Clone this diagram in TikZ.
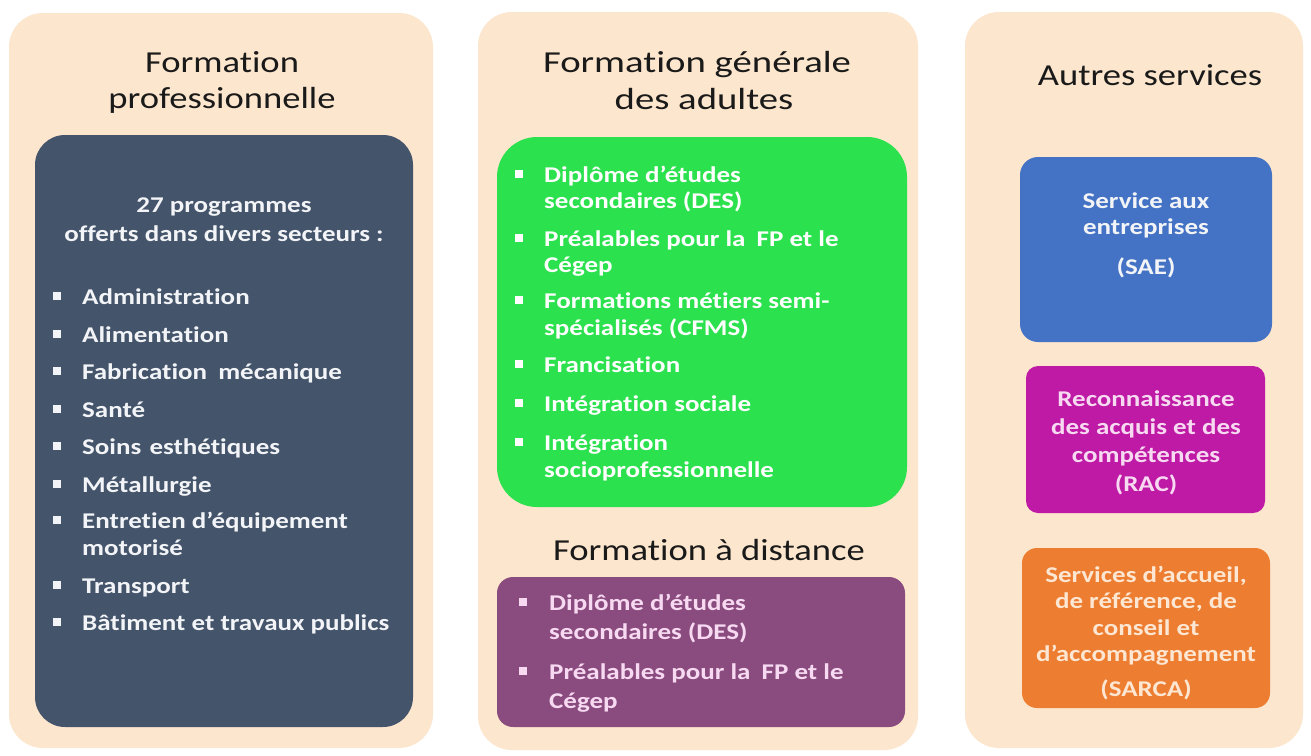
\documentclass[tikz,border=0pt]{standalone}
\usepackage{fontspec}
\setmainfont{Carlito}
\newfontfamily\ttlfont[FakeStretch=1.2,Ligatures=NoCommon]{Carlito}
\newfontfamily\ttlfontw[FakeStretch=1.27,Ligatures=NoCommon]{Carlito}
\newfontfamily\bodyfont[FakeStretch=1.2,Ligatures=NoCommon]{Carlito}
\definecolor{panelbg}{HTML}{FCE6CD}
\definecolor{darkbox}{HTML}{44546A}
\definecolor{greenbox}{HTML}{2CE14E}
\definecolor{purplebox}{HTML}{8A4B7F}
\definecolor{bluebox}{HTML}{4472C4}
\definecolor{magbox}{HTML}{BE1AA5}
\definecolor{orangebox}{HTML}{ED7D31}
\definecolor{titlec}{HTML}{1A1A1A}
\definecolor{pinktxt}{HTML}{F7DAF1}
\definecolor{peachtxt}{HTML}{FDE6D2}
\definecolor{paletxt}{HTML}{F2F4F7}
\newcommand\boxat[6]{\node[boxshape,#6,minimum width=#4pt,minimum height=#5pt,anchor=north west] (#1) at (#2,#3) {};}
\newcommand\wline[5]{\node[#2,anchor=base west] (#1) at (#3,#4) {#5};}
\newcommand\ctrline[5]{\node[#2,anchor=base] (#1) at (#3,#4) {#5};}
\newcommand\bul[4]{\node[bulletsq,fill=#4] (#1) at (#2,{#3-8}) {};}
\begin{document}
\begin{tikzpicture}[x=1pt,y=-1pt,
  boxshape/.style={rectangle,inner sep=0pt,outer sep=0pt},
  panel/.style={fill=panelbg,rounded corners=34pt},
  ttl/.style={font=\ttlfont\fontsize{30.5}{37}\selectfont,text=titlec,inner sep=0pt},
  ttlw/.style={font=\ttlfontw\fontsize{30.5}{37}\selectfont,text=titlec,inner sep=0pt},
  body/.style={font=\bodyfont\bfseries\fontsize{22.5}{27}\selectfont,inner sep=0pt},
  bulletsq/.style={rectangle,minimum size=7.5pt,inner sep=0pt,outer sep=0pt}]
\useasboundingbox (0,0) rectangle (1311,755);
\fill[white] (0,0) rectangle (1311,755);
% panels
\boxat{p1}{9}{13}{424}{735}{panel}
\boxat{p2}{478}{12}{440}{738}{panel}
\boxat{p3}{965}{12}{338}{736}{panel}
% inner boxes
\boxat{dark}{35}{135}{378}{592}{fill=darkbox,rounded corners=30pt}
\boxat{green}{497}{137}{410}{370}{fill=greenbox,rounded corners=40pt}
\boxat{purple}{497}{577}{408}{150}{fill=purplebox,rounded corners=16pt}
\boxat{blue}{1020}{157}{252}{185}{fill=bluebox,rounded corners=18pt}
\boxat{mag}{1026}{366}{239}{147}{fill=magbox,rounded corners=12pt}
\boxat{orange}{1022}{548}{248}{160}{fill=orangebox,rounded corners=15pt}
% titles
\ctrline{t1a}{ttl}{222}{72}{Formation}
\ctrline{t1b}{ttl}{222}{108}{professionnelle}
\ctrline{t2a}{ttlw}{697}{72}{Formation générale}
\ctrline{t2b}{ttlw}{704}{109}{des adultes}
\ctrline{t2c}{ttl}{709}{560}{Formation à distance}
\ctrline{t3a}{ttl}{1150}{85}{Autres services}
% left box
\ctrline{l0a}{body,text=paletxt}{224}{212}{27 programmes}
\ctrline{l0b}{body,text=paletxt}{224}{241}{offerts dans divers secteurs :}
\bul{lb1}{57}{304}{paletxt}\wline{l1}{body,text=paletxt}{82}{304}{Administration}
\bul{lb2}{57}{342}{paletxt}\wline{l2}{body,text=paletxt}{82}{342}{Alimentation}
\bul{lb3}{57}{379}{paletxt}\wline{l3}{body,text=paletxt}{82}{379}{Fabrication\hspace{5pt} mécanique}
\bul{lb4}{57}{417}{paletxt}\wline{l4}{body,text=paletxt}{82}{417}{Santé}
\bul{lb5}{57}{454}{paletxt}\wline{l5}{body,text=paletxt}{82}{454}{Soins\hspace{2pt} esthétiques}
\bul{lb6}{57}{492}{paletxt}\wline{l6}{body,text=paletxt}{82}{492}{Métallurgie}
\bul{lb7}{57}{528}{paletxt}\wline{l7}{body,text=paletxt}{82}{528}{Entretien d’équipement}
\wline{l7b}{body,text=paletxt}{82}{555}{motorisé}
\bul{lb8}{57}{593}{paletxt}\wline{l8}{body,text=paletxt}{82}{593}{Transport}
\bul{lb9}{57}{630}{paletxt}\wline{l9}{body,text=paletxt}{82}{630}{Bâtiment et travaux publics}
% green box
\bul{gb1}{519}{182}{white}\wline{g1}{body,text=white}{544}{182}{Diplôme d’études}
\wline{g1b}{body,text=white}{544}{208}{secondaires (DES)}
\bul{gb2}{519}{246}{white}\wline{g2}{body,text=white}{544}{246}{Préalables pour la\hspace{5pt} FP et le}
\wline{g2b}{body,text=white}{544}{272}{Cégep}
\bul{gb3}{519}{308}{white}\wline{g3}{body,text=white}{544}{308}{Formations métiers semi-}
\wline{g3b}{body,text=white}{544}{335}{spécialisés (CFMS)}
\bul{gb4}{519}{372}{white}\wline{g4}{body,text=white}{544}{372}{Francisation}
\bul{gb5}{519}{411}{white}\wline{g5}{body,text=white}{544}{411}{Intégration sociale}
\bul{gb6}{519}{450}{white}\wline{g6}{body,text=white}{544}{450}{Intégration}
\wline{g6b}{body,text=white}{544}{477}{socioprofessionnelle}
% purple box
\bul{pb1}{523}{610}{pinktxt}\wline{pu1}{body,text=pinktxt}{549}{610}{Diplôme d’études}
\wline{pu1b}{body,text=pinktxt}{549}{639}{secondaires (DES)}
\bul{pb2}{523}{679}{pinktxt}\wline{pu2}{body,text=pinktxt}{549}{679}{Préalables pour la\hspace{5pt} FP et le}
\wline{pu2b}{body,text=pinktxt}{549}{708}{Cégep}
% blue box
\ctrline{s1a}{body,text=paletxt}{1146}{208}{Service aux}
\ctrline{s1b}{body,text=paletxt}{1146}{234}{entreprises}
\ctrline{s1c}{body,text=paletxt}{1146}{274}{(SAE)}
% magenta box
\ctrline{s2a}{body,text=pinktxt}{1146}{406}{Reconnaissance}
\ctrline{s2b}{body,text=pinktxt}{1146}{434}{des acquis et des}
\ctrline{s2c}{body,text=pinktxt}{1146}{462}{compétences}
\ctrline{s2d}{body,text=pinktxt}{1146}{491}{(RAC)}
% orange box
\ctrline{s3a}{body,text=peachtxt}{1146}{582}{Services d’accueil,}
\ctrline{s3b}{body,text=peachtxt}{1146}{608}{de référence, de}
\ctrline{s3c}{body,text=peachtxt}{1146}{635}{conseil et}
\ctrline{s3d}{body,text=peachtxt}{1146}{661}{d’accompagnement}
\ctrline{s3e}{body,text=peachtxt}{1146}{696}{(SARCA)}
\end{tikzpicture}
\end{document}
